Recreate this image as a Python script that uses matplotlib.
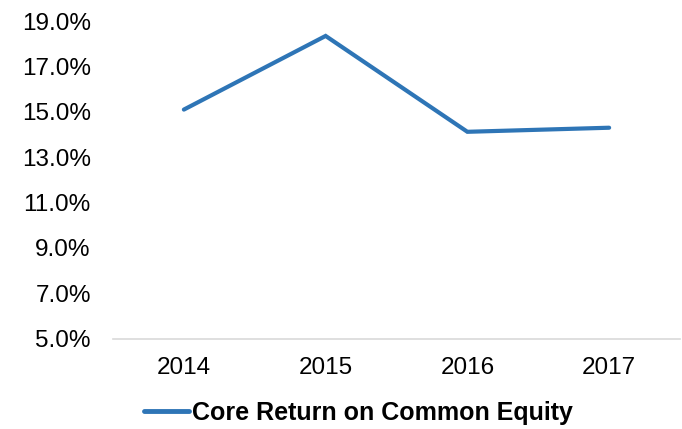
import matplotlib
matplotlib.use("Agg")
import matplotlib.pyplot as plt
from matplotlib.ticker import FuncFormatter

# data
years = ["2014", "2015", "2016", "2017"]
core_roce = [15.1, 18.35, 14.12, 14.3]
y_ticks = [5, 7, 9, 11, 13, 15, 17, 19]

plt.rcParams["font.family"] = ["Liberation Sans", "DejaVu Sans"]

fig = plt.figure(figsize=(6.82, 4.29), dpi=100)
ax = fig.add_axes([113 / 682, 1 - 338.5 / 429, 567 / 682, (338.5 - 21.2) / 429])

x = range(len(years))
ax.plot(x, core_roce, color="#2E75B6", lw=3, solid_capstyle="round",
        solid_joinstyle="miter", label="Core Return on Common Equity")

ax.set_xlim(-0.5, len(years) - 0.5)
ax.set_ylim(5, 19)
ax.set_xticks(list(x))
ax.set_xticklabels(years)
ax.set_yticks(y_ticks)
ax.yaxis.set_major_formatter(FuncFormatter(lambda v, p: f"{v:.1f}%"))

for s in ["top", "right", "left"]:
    ax.spines[s].set_visible(False)
ax.spines["bottom"].set_color("#D9D9D9")
ax.spines["bottom"].set_linewidth(1.2)
ax.tick_params(axis="both", length=0, labelsize=17.5, colors="black")
ax.tick_params(axis="x", pad=13)
ax.tick_params(axis="y", pad=16)

leg = fig.legend(loc="center", bbox_to_anchor=(358 / 682, 1 - 413 / 429),
                 frameon=False, handlelength=1.8, handletextpad=0.12,
                 prop={"weight": "bold", "size": 18})
leg.get_lines()[0].set_linewidth(3.5)

fig.savefig("out.png", dpi=100)
plt.close()
